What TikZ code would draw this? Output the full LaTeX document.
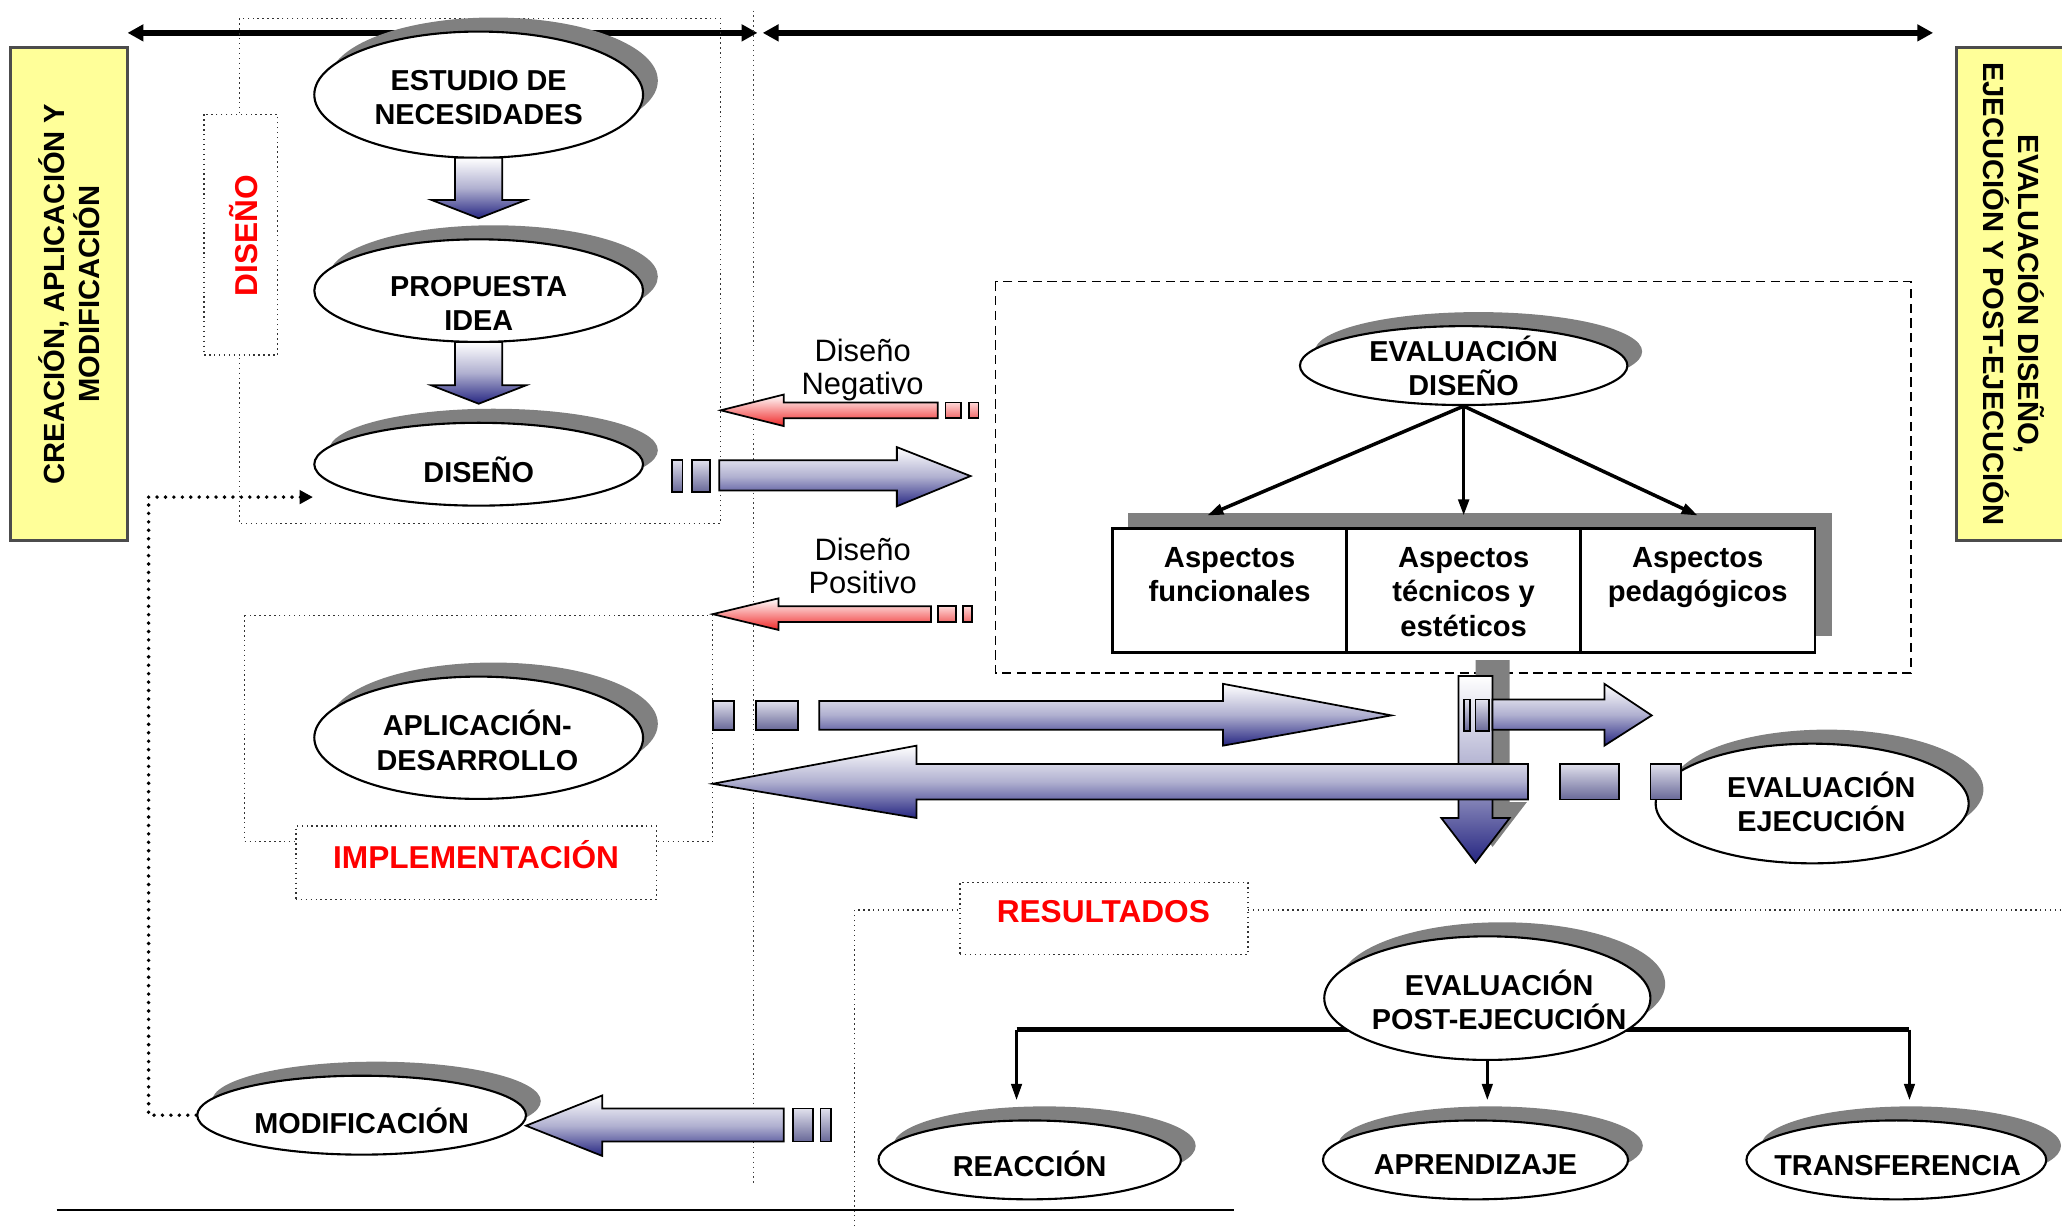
\documentclass[tikz,border=0pt]{standalone}
\usepackage{fontspec}
\setmainfont{Liberation Sans}
\usetikzlibrary{shapes.geometric,shadows,arrows.meta,calc}

\newcommand{\pxu}{0.01315cm}
\definecolor{amarillo}{RGB}{255,255,153}
\definecolor{azul}{RGB}{38,38,130}
\definecolor{lila}{RGB}{176,176,208}
\definecolor{gris}{RGB}{128,128,128}
\definecolor{rojo}{RGB}{255,0,0}

\begin{document}
\begin{tikzpicture}[x=0.01315cm,y=-0.01315cm]
    \tikzstyle{elipse}=[ellipse, draw=black, line width=0.6pt, fill=white, inner sep=0pt,
      general shadow={fill=gris, shadow xshift=4.2pt, shadow yshift=4pt}]
    \tikzstyle{rotulo}=[align=center, inner sep=0pt, font=\fontsize{8.2}{9.7}\selectfont\bfseries]
    \tikzstyle{nota}=[align=center, inner sep=0pt, font=\fontsize{8.8}{9.4}\selectfont]
    \tikzstyle{franja}=[draw=black!70, line width=0.8pt, fill=amarillo, align=center,
      font=\fontsize{8.3}{10}\selectfont\bfseries]
    \tikzstyle{caja}=[draw=black!80, densely dotted, line width=0.4pt]
    \tikzstyle{etiqueta}=[caja, fill=white, inner sep=0pt]
    \tikzstyle{rojizo}=[text=rojo, inner sep=0pt, font=\fontsize{9}{11}\selectfont\bfseries]
    \tikzstyle{bloque}=[draw=black, line width=0.5pt, top color=white, bottom color=azul, middle color=lila]
    \tikzstyle{bloquer}=[draw=black, line width=0.5pt, top color=white, bottom color={rgb,255:red,240;green,40;blue,40}]
    \tikzstyle{cajita}=[draw=black, line width=0.5pt, top color={rgb,255:red,224;green,224;blue,236},
      bottom color={rgb,255:red,104;green,104;blue,152}]
    \tikzstyle{cajitar}=[draw=black, line width=0.5pt, top color={rgb,255:red,255;green,215;blue,215},
      bottom color={rgb,255:red,240;green,105;blue,105}]
    \tikzstyle{celda}=[draw=black, line width=0.7pt, fill=white, inner sep=0pt,
      minimum width=178*\pxu, minimum height=94*\pxu]
    \tikzstyle{aspecto}=[align=center, inner sep=0pt, anchor=north, font=\fontsize{8.3}{9.7}\selectfont\bfseries]
    \tikzstyle{gruesa}=[line width=1.5pt, {Triangle[length=4.5pt,width=4.6pt]}-{Triangle[length=4.5pt,width=4.6pt]}]
    \tikzstyle{dedge}=[line width=1pt, -{Triangle[length=4.6pt,width=3pt]}]
    \tikzstyle{fina}=[line width=0.8pt, -{Triangle[length=4.6pt,width=3pt]}, shorten >=5.5pt]
    \tikzstyle{puntos}=[line width=1.1pt, dash pattern=on 0pt off 2.4pt, line cap=round]

    \useasboundingbox (0,0) rectangle (1568,933);
    \clip (0,0) rectangle (1568,933);

    % franjas laterales
    \node[franja, rotate=90, minimum width=375*\pxu, minimum height=89*\pxu] (crea) at (52.5,223.5)
      {CREACIÓN, APLICACIÓN Y\\MODIFICACIÓN};
    \node[franja, rotate=-90, minimum width=375*\pxu, minimum height=87*\pxu] (eval) at (1531.5,223.5)
      {EVALUACIÓN DISEÑO,\\EJECUCIÓN Y POST-EJECUCIÓN};

    % flechas superiores
    \coordinate (s1) at (97,25);
    \coordinate (s2) at (576,25);
    \coordinate (s3) at (580,25);
    \coordinate (s4) at (1470,25);
    \draw[gruesa] (s1)--(s2);
    \draw[gruesa] (s3)--(s4);

    \draw[densely dotted, black!75, line width=0.4pt] (573,8) -- (573,900);

    % zonas
    \draw[caja] (182,14) rectangle (548,398);
    \node[etiqueta, rotate=90, minimum width=183*\pxu, minimum height=56*\pxu] (ldis) at (183,178.5) {};
    \node[rojizo, rotate=90] (tdis) at (185,179) {DISEÑO};
    \draw[caja] (186,468) rectangle (542,640);
    \node[etiqueta, minimum width=274*\pxu, minimum height=56*\pxu] (limp) at (362,656) {};
    \node[rojizo] (timp) at (362,650) {IMPLEMENTACIÓN};
    \draw[dash pattern=on 2.6pt off 1.6pt, line width=0.5pt] (757,214) rectangle (1453,512);
    \draw[caja] (650,940) -- (650,692) -- (730,692);
    \draw[caja] (949,692) -- (1575,692);
    \node[etiqueta, minimum width=219*\pxu, minimum height=55*\pxu] (lres) at (839.5,698.5) {};
    \node[rojizo] (tres) at (839,693) {RESULTADOS};

    % elipses
    \node[elipse, minimum width=250*\pxu, minimum height=96*\pxu] (nec) at (364,72) {};
    \node[rotulo] (tnec) at (364,74) {ESTUDIO DE\\NECESIDADES};
    \node[elipse, minimum width=250*\pxu, minimum height=78*\pxu] (prop) at (364,221) {};
    \node[rotulo] (tprop) at (364,231) {PROPUESTA\\IDEA};
    \node[elipse, minimum width=250*\pxu, minimum height=63*\pxu] (dis) at (364,353) {};
    \node[rotulo] (tdis2) at (364,357) {DISEÑO};
    \node[elipse, minimum width=250*\pxu, minimum height=93*\pxu] (apl) at (364,561) {};
    \node[rotulo] (tapl) at (363,563) {APLICACIÓN-\\DESARROLLO};
    \node[elipse, minimum width=250*\pxu, minimum height=60*\pxu] (mod) at (275,848) {};
    \node[rotulo] (tmod) at (275,852) {MODIFICACIÓN};
    \node[elipse, minimum width=249*\pxu, minimum height=60*\pxu] (evd) at (1113,278) {};
    \node[rotulo] (tevd) at (1113,278) {EVALUACIÓN\\DISEÑO};
    \node[elipse, minimum width=238*\pxu, minimum height=91*\pxu] (eje) at (1378,611) {};
    \node[rotulo] (teje) at (1385,610) {EVALUACIÓN\\EJECUCIÓN};

    \coordinate (bi) at (773,783);
    \coordinate (bd) at (1452,783);
    \draw[line width=1.3pt] (bi)--(bd);
    \node[elipse, minimum width=248*\pxu, minimum height=94*\pxu] (post) at (1131,759) {};
    \node[rotulo] (tpost) at (1140,760) {EVALUACIÓN\\POST-EJECUCIÓN};
    \node[elipse, minimum width=230*\pxu, minimum height=60*\pxu] (reac) at (783,882) {};
    \node[rotulo] (treac) at (783,885) {REACCIÓN};
    \node[elipse, minimum width=232*\pxu, minimum height=60*\pxu] (apr) at (1122,882) {};
    \node[rotulo] (tapr) at (1122,886) {APRENDIZAJE};
    \node[elipse, minimum width=228*\pxu, minimum height=60*\pxu] (trans) at (1442,882) {};
    \node[rotulo] (ttrans) at (1443,886) {TRANSFERENCIA};

    \draw[fina] (bi)--(bi |- reac.north);
    \draw[fina] (post.south)--(post.south |- apr.north);
    \draw[fina] (bd)--(bd |- trans.north);

    % flechas de bloque
    \path[bloque] (346,120) -- (382,120) -- (382,152) -- (400,152) -- (364,166) -- (328,152) -- (346,152) -- cycle;
    \path[bloque] (346,260) -- (382,260) -- (382,293) -- (400,293) -- (364,307) -- (328,293) -- (346,293) -- cycle;

    \path[cajita] (511,350) rectangle (519,374);
    \path[cajita] (526,350) rectangle (540,374);
    \path[bloque] (547,350) -- (682,350) -- (682,340) -- (738,362) -- (682,385) -- (682,373) -- (547,373) -- cycle;

    \path[bloquer] (713,306) -- (596,306) -- (596,300) -- (548,312) -- (596,324) -- (596,318) -- (713,318) -- cycle;
    \path[cajitar] (719,306) rectangle (731,318);
    \path[cajitar] (737,306) rectangle (744,318);
    \node[nota] (tneg) at (656,281) {Diseño\\Negativo};

    \path[bloquer] (708,461) -- (592,461) -- (592,455) -- (542,467) -- (592,479) -- (592,473) -- (708,473) -- cycle;
    \path[cajitar] (713,461) rectangle (727,473);
    \path[cajitar] (732,461) rectangle (739,473);
    \node[nota] (tpos) at (656,430) {Diseño\\Positivo};

    \path[cajita] (542,533) rectangle (558,555);
    \path[cajita] (575,533) rectangle (607,555);
    \path[bloque] (623,533) -- (930,533) -- (930,520) -- (1058,544) -- (930,567) -- (930,555) -- (623,555) -- cycle;

    \path[fill=gris] (1122,502) -- (1148,502) -- (1148,610) -- (1161,610) -- (1135,644) -- (1109,610) -- (1122,610) -- cycle;
    \path[bloque] (1109,514) -- (1135,514) -- (1135,622) -- (1148,622) -- (1122,656) -- (1096,622) -- (1109,622) -- cycle;
    \path[bloque] (1162,581) -- (697,581) -- (697,567) -- (542,596) -- (697,622) -- (697,608) -- (1162,608) -- cycle;
    \path[cajita] (1186,581) rectangle (1231,608);
    \path[cajita] (1255,581) rectangle (1278,608);
    \path[bloque] (1135,532) -- (1220,532) -- (1220,520) -- (1256,544) -- (1220,567) -- (1220,555) -- (1135,555) -- cycle;
    \path[cajita] (1113,532) rectangle (1118,556);
    \path[cajita] (1122,532) rectangle (1132,556);

    \path[bloque] (596,843) -- (458,843) -- (458,833) -- (400,856) -- (458,879) -- (458,868) -- (596,868) -- cycle;
    \path[cajita] (603,843) rectangle (618,868);
    \path[cajita] (624,843) rectangle (632,868);

    % aspectos
    \fill[gris] (858,390) rectangle (1393,484);
    \node[celda] (af) at (935,449) {};
    \node[celda] (at) at (1113,449) {};
    \node[celda] (ap) at (1291,449) {};
    \node[aspecto] (taf) at (935,416) {Aspectos\\funcionales};
    \node[aspecto] (tat) at (1113,416) {Aspectos\\técnicos y\\estéticos};
    \node[aspecto] (tap) at (1291,416) {Aspectos\\pedagógicos};
    \coordinate (p1) at (918,392);
    \coordinate (p2) at (1113,392);
    \coordinate (p3) at (1291,392);
    \draw[dedge] (evd.south)--(p1);
    \draw[dedge] (evd.south)--(p2);
    \draw[dedge] (evd.south)--(p3);

    % retorno
    \coordinate (esq) at (113,378);
    \coordinate (lleg) at (238,378);
    \draw[puntos] (mod.west) -| (esq);
    \draw[puntos, -{Triangle[length=3.8pt,width=3.8pt]}] (esq)--(lleg);

    \draw[line width=0.7pt] (43,920) -- (938,920);
  \end{tikzpicture}
\end{document}
